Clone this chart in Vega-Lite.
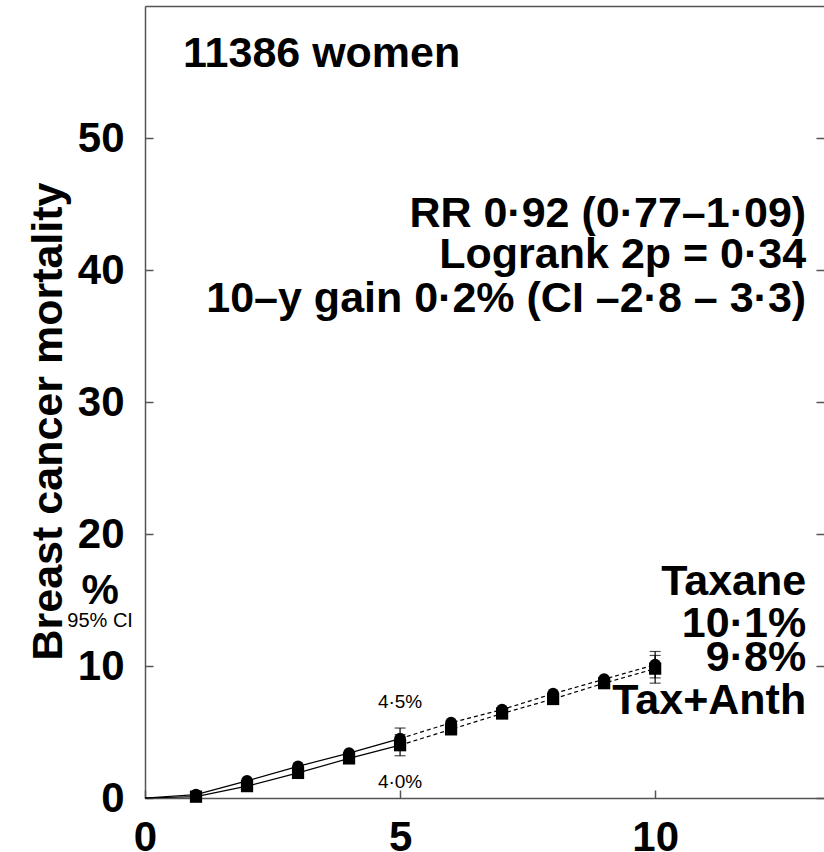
{
  "$schema": "https://vega.github.io/schema/vega-lite/v6.json",
  "autosize": "none",
  "padding": {"left": 145, "top": 6, "right": 0, "bottom": 54},
  "width": 679,
  "height": 792,
  "background": "white",
  "config": {
    "view": {"stroke": null},
    "font": "Liberation Sans",
    "axis": {
      "domainColor": "#555555",
      "domainWidth": 1.5,
      "tickColor": "#555555",
      "tickWidth": 1.5,
      "labelColor": "black",
      "labelFont": "Liberation Sans",
      "labelFontWeight": "bold",
      "labelFontSize": 42,
      "grid": false
    }
  },
  "datasets": {
    "curves": [
      {"series": "Taxane", "year": 0, "value": 0},
      {"series": "Taxane", "year": 1, "value": 0.25},
      {"series": "Taxane", "year": 2, "value": 1.3},
      {"series": "Taxane", "year": 3, "value": 2.4},
      {"series": "Taxane", "year": 4, "value": 3.4},
      {"series": "Taxane", "year": 5, "value": 4.5, "lo": 3.7, "hi": 5.3},
      {"series": "Taxane", "year": 6, "value": 5.7},
      {"series": "Taxane", "year": 7, "value": 6.7},
      {"series": "Taxane", "year": 8, "value": 7.9},
      {"series": "Taxane", "year": 9, "value": 9.0},
      {"series": "Taxane", "year": 10, "value": 10.1, "lo": 9.1, "hi": 11.1},
      {"series": "Tax+Anth", "year": 0, "value": 0},
      {"series": "Tax+Anth", "year": 1, "value": 0.1},
      {"series": "Tax+Anth", "year": 2, "value": 0.9},
      {"series": "Tax+Anth", "year": 3, "value": 1.9},
      {"series": "Tax+Anth", "year": 4, "value": 3.0},
      {"series": "Tax+Anth", "year": 5, "value": 4.0, "lo": 3.2, "hi": 4.8},
      {"series": "Tax+Anth", "year": 6, "value": 5.2},
      {"series": "Tax+Anth", "year": 7, "value": 6.4},
      {"series": "Tax+Anth", "year": 8, "value": 7.5},
      {"series": "Tax+Anth", "year": 9, "value": 8.7},
      {"series": "Tax+Anth", "year": 10, "value": 9.8, "lo": 8.7, "hi": 10.8}
    ]
  },
  "data": {"name": "curves"},
  "layer": [
    {
      "transform": [{"filter": "datum.year <= 5"}],
      "mark": {"type": "line", "color": "black", "strokeWidth": 1.2},
      "encoding": {
        "x": {"field": "year", "type": "quantitative", "scale": {"domain": [0, 13.31], "nice": false},
              "axis": {"orient": "bottom", "values": [0, 5, 10], "tickSize": -8, "labelPadding": 27, "title": null, "labelFlush": false}},
        "y": {"field": "value", "type": "quantitative", "scale": {"domain": [0, 60], "nice": false},
              "axis": {"orient": "left", "values": [0, 10, 20, 30, 40, 50], "tickSize": -8, "labelPadding": 29,
                       "title": "Breast cancer mortality", "titleFont": "Liberation Sans", "titleFontWeight": "bold", "titleFontSize": 43,
                       "titleColor": "black", "titleAngle": -90, "titleBaseline": "alphabetic", "titleAlign": "center",
                       "titleX": -84, "titleY": 415, "labelFlush": false}},
        "detail": {"field": "series"}
      }
    },
    {
      "transform": [{"filter": "datum.year >= 5"}],
      "mark": {"type": "line", "color": "black", "strokeWidth": 1.2, "strokeDash": [4, 3]},
      "encoding": {
        "x": {"field": "year", "type": "quantitative", "scale": {"domain": [0, 13.31], "nice": false},
              "axis": {"orient": "top", "domain": true, "ticks": false, "labels": false, "title": null}},
        "y": {"field": "value", "type": "quantitative", "scale": {"domain": [0, 60], "nice": false},
              "axis": {"orient": "right", "values": [0, 10, 20, 30, 40, 50], "tickSize": -8, "labels": false, "domain": false, "title": null}},
        "detail": {"field": "series"}
      }
    },
    {
      "transform": [{"filter": "isValid(datum.lo)"}],
      "mark": {"type": "rule", "color": "black", "strokeWidth": 1.2},
      "encoding": {
        "x": {"field": "year", "type": "quantitative", "scale": {"domain": [0, 13.31], "nice": false}, "axis": null},
        "y": {"field": "lo", "type": "quantitative", "scale": {"domain": [0, 60], "nice": false}, "axis": null},
        "y2": {"field": "hi"}
      }
    },
    {
      "transform": [{"filter": "isValid(datum.lo)"}],
      "mark": {"type": "tick", "orient": "horizontal", "color": "black", "size": 11, "thickness": 1.2},
      "encoding": {
        "x": {"field": "year", "type": "quantitative", "scale": {"domain": [0, 13.31], "nice": false}, "axis": null},
        "y": {"field": "lo", "type": "quantitative", "scale": {"domain": [0, 60], "nice": false}, "axis": null}
      }
    },
    {
      "transform": [{"filter": "isValid(datum.hi)"}],
      "mark": {"type": "tick", "orient": "horizontal", "color": "black", "size": 11, "thickness": 1.2},
      "encoding": {
        "x": {"field": "year", "type": "quantitative", "scale": {"domain": [0, 13.31], "nice": false}, "axis": null},
        "y": {"field": "hi", "type": "quantitative", "scale": {"domain": [0, 60], "nice": false}, "axis": null}
      }
    },
    {
      "transform": [{"filter": "datum.series == 'Tax+Anth' && datum.year >= 1"}],
      "mark": {"type": "point", "shape": "square", "filled": true, "color": "black", "opacity": 1, "size": 150},
      "encoding": {
        "x": {"field": "year", "type": "quantitative", "scale": {"domain": [0, 13.31], "nice": false}, "axis": null},
        "y": {"field": "value", "type": "quantitative", "scale": {"domain": [0, 60], "nice": false}, "axis": null}
      }
    },
    {
      "transform": [{"filter": "datum.series == 'Taxane' && datum.year >= 1"}],
      "mark": {"type": "point", "shape": "circle", "filled": true, "color": "black", "opacity": 1, "size": 140},
      "encoding": {
        "x": {"field": "year", "type": "quantitative", "scale": {"domain": [0, 13.31], "nice": false}, "axis": null},
        "y": {"field": "value", "type": "quantitative", "scale": {"domain": [0, 60], "nice": false}, "axis": null}
      }
    },
    {
      "data": {"values": [{"t": "11386 women"}]},
      "mark": {"type": "text", "align": "left", "baseline": "alphabetic", "fontSize": 43, "fontWeight": "bold", "color": "black"},
      "encoding": {
        "x": {"datum": 0.745, "type": "quantitative", "scale": {"domain": [0, 13.31], "nice": false}, "axis": null},
        "y": {"datum": 55.38, "type": "quantitative", "scale": {"domain": [0, 60], "nice": false}, "axis": null},
        "text": {"field": "t"}
      }
    },
    {
      "data": {"values": [
        {"t": "RR 0·92 (0·77–1·09)", "row": 43.26},
        {"t": "Logrank 2p = 0·34", "row": 40.15},
        {"t": "10–y gain 0·2% (CI –2·8 – 3·3)", "row": 36.82},
        {"t": "Taxane", "row": 15.38},
        {"t": "10·1%", "row": 12.2},
        {"t": "9·8%", "row": 9.62},
        {"t": "Tax+Anth", "row": 6.36}
      ]},
      "mark": {"type": "text", "align": "right", "baseline": "alphabetic", "fontSize": 43, "fontWeight": "bold", "color": "black"},
      "encoding": {
        "x": {"datum": 12.96, "type": "quantitative", "scale": {"domain": [0, 13.31], "nice": false}, "axis": null},
        "y": {"field": "row", "type": "quantitative", "scale": {"domain": [0, 60], "nice": false}, "axis": null},
        "text": {"field": "t"}
      }
    },
    {
      "data": {"values": [
        {"t": "4·5%", "row": 6.82},
        {"t": "4·0%", "row": 0.76}
      ]},
      "mark": {"type": "text", "align": "center", "baseline": "alphabetic", "fontSize": 19, "color": "black"},
      "encoding": {
        "x": {"datum": 5, "type": "quantitative", "scale": {"domain": [0, 13.31], "nice": false}, "axis": null},
        "y": {"field": "row", "type": "quantitative", "scale": {"domain": [0, 60], "nice": false}, "axis": null},
        "text": {"field": "t"}
      }
    },
    {
      "data": {"values": [{"t": "%"}]},
      "mark": {"type": "text", "align": "center", "baseline": "alphabetic", "fontSize": 42, "fontWeight": "bold", "color": "black"},
      "encoding": {
        "x": {"datum": -0.88, "type": "quantitative", "scale": {"domain": [0, 13.31], "nice": false}, "axis": null},
        "y": {"datum": 14.7, "type": "quantitative", "scale": {"domain": [0, 60], "nice": false}, "axis": null},
        "text": {"field": "t"}
      }
    },
    {
      "data": {"values": [{"t": "95% CI"}]},
      "mark": {"type": "text", "align": "center", "baseline": "alphabetic", "fontSize": 20, "color": "black"},
      "encoding": {
        "x": {"datum": -0.88, "type": "quantitative", "scale": {"domain": [0, 13.31], "nice": false}, "axis": null},
        "y": {"datum": 12.95, "type": "quantitative", "scale": {"domain": [0, 60], "nice": false}, "axis": null},
        "text": {"field": "t"}
      }
    }
  ],
  "resolve": {"axis": {"x": "independent", "y": "independent"}}
}
